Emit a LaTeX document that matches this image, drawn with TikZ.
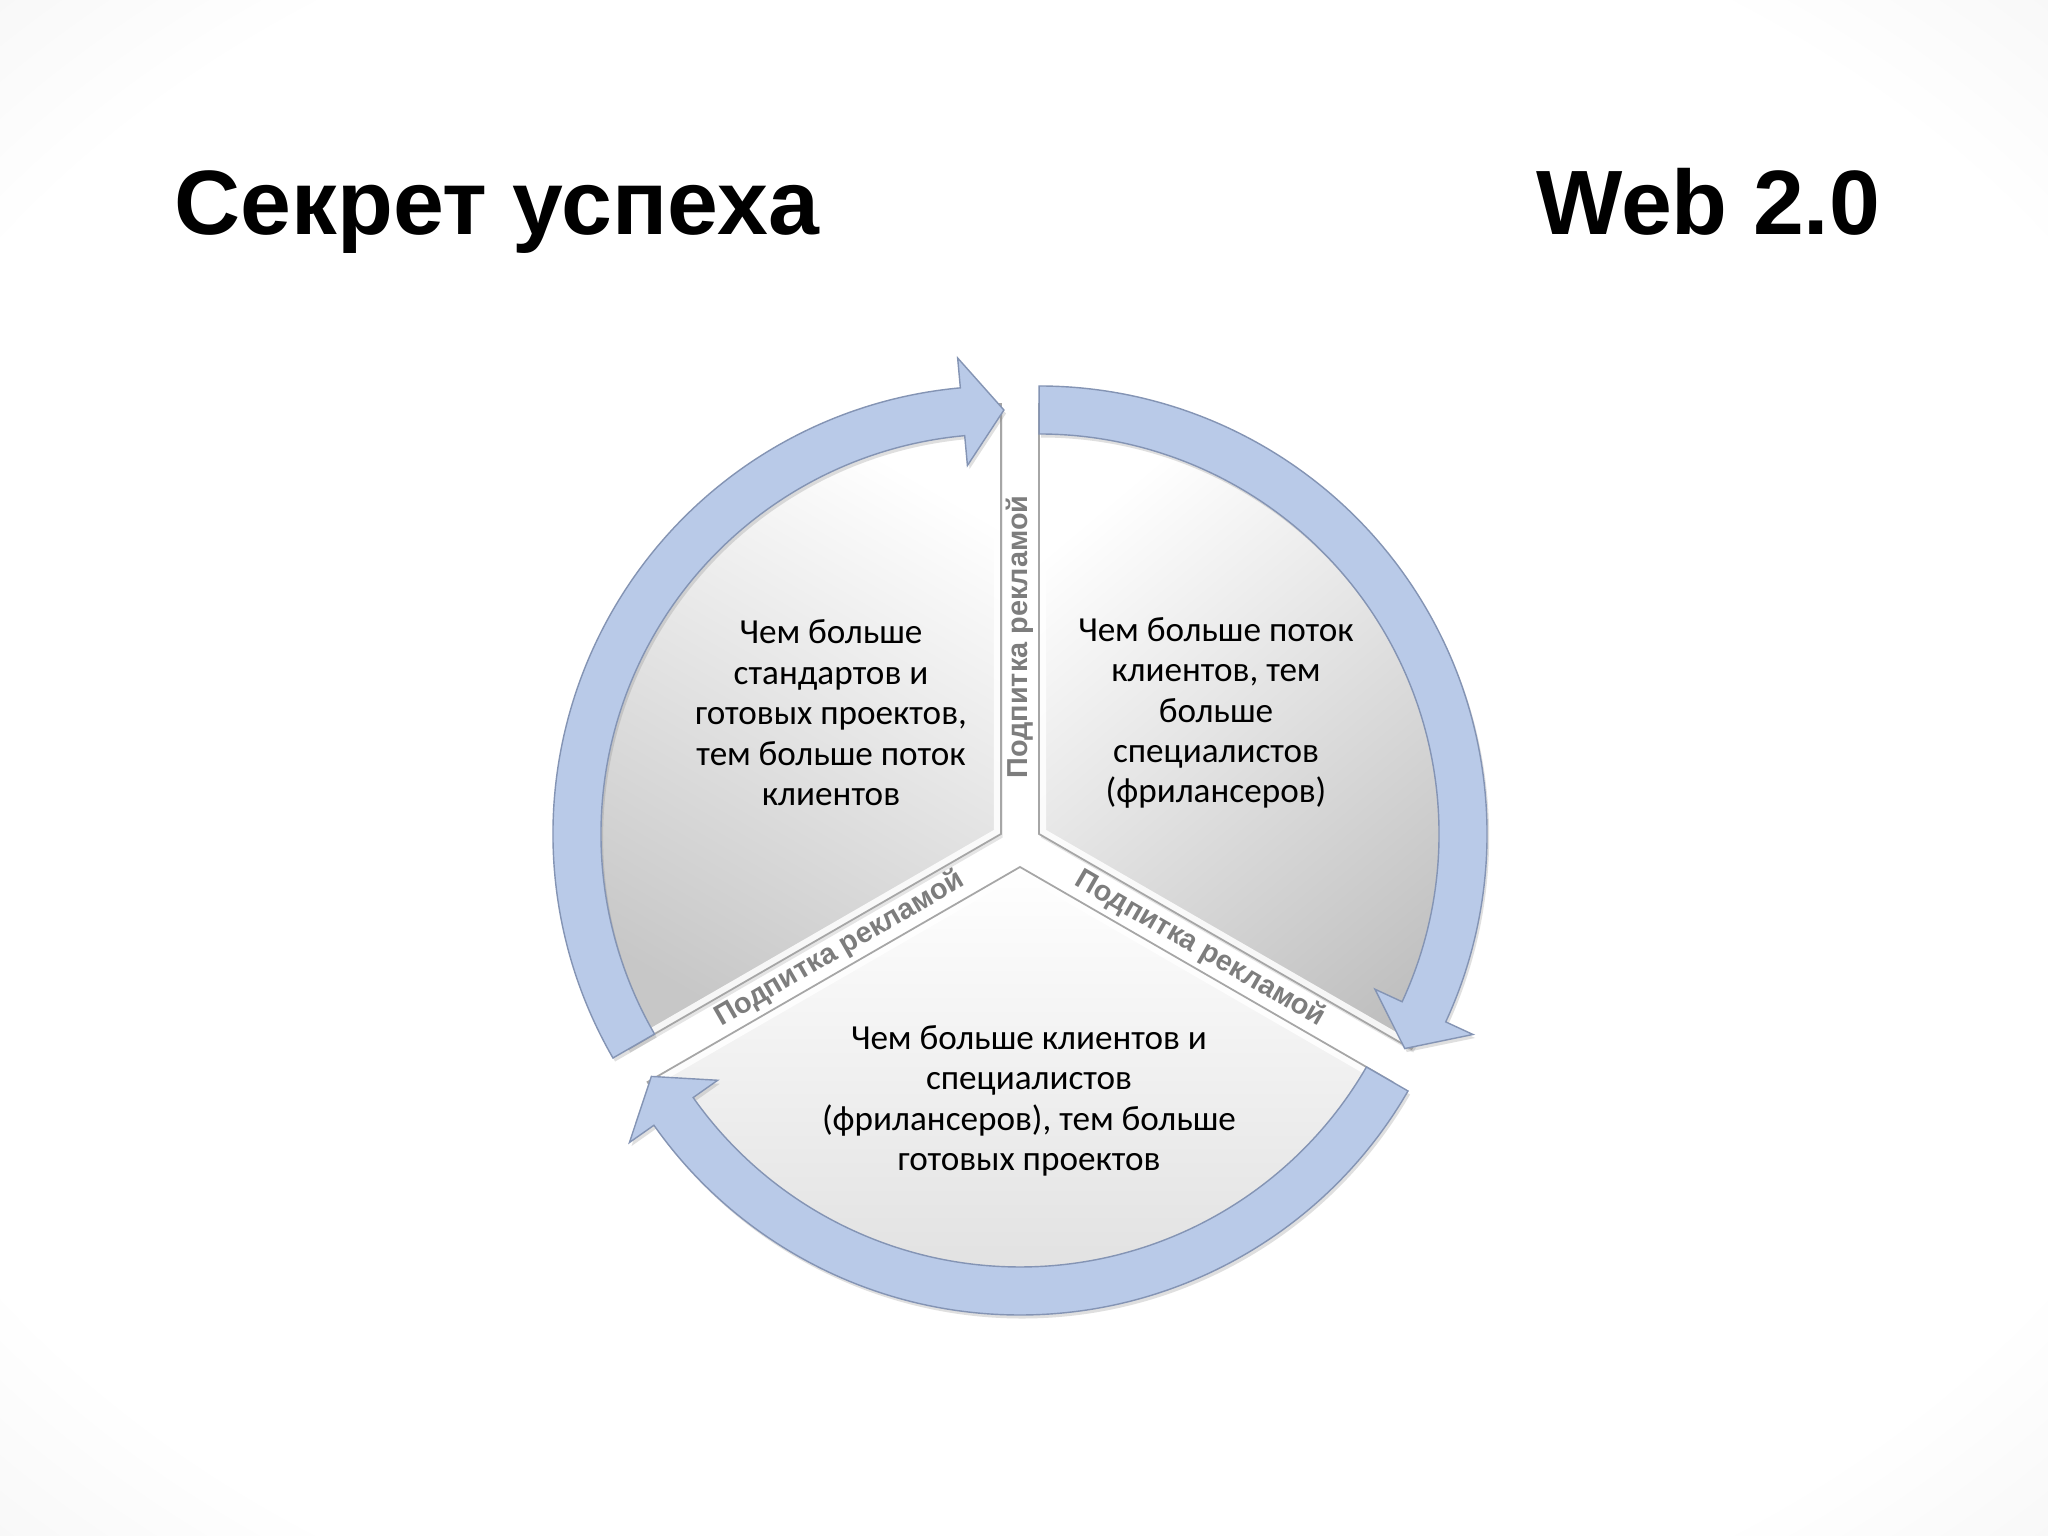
\documentclass[tikz,border=0pt]{standalone}
\usepackage{fontspec}
\setmainfont{Carlito}
\newfontfamily\headfont{Liberation Sans}
\usetikzlibrary{calc}
\usetikzlibrary{shadows}
\definecolor{ringblue}{RGB}{185,202,232}
\definecolor{ringedge}{RGB}{132,148,180}
\definecolor{labelgray}{RGB}{125,125,125}
\pgfdeclareradialshading{slidebg}{\pgfpoint{0bp}{0bp}}{color(0bp)=(white); color(30bp)=(white); color(50bp)=(black!10); color(72bp)=(black!22)}

\tikzset{
  title/.style={font=\headfont\bfseries\fontsize{26}{30}\selectfont, inner sep=0pt},
  bodytext/.style={align=center, font=\fontsize{10}{11.5}\selectfont, inner sep=0pt},
  gaplabel/.style={font=\headfont\bfseries\fontsize{8.2}{9}\selectfont, text=labelgray, inner sep=0pt},
  arrowring/.style={fill=ringblue, draw=ringedge, line width=0.4pt,
    drop shadow={shadow xshift=0.6pt, shadow yshift=-1pt, opacity=0.25}},
  slice/.style={draw=black!35, line width=0.5pt}
}

\begin{document}
\begin{tikzpicture}[x=0.01cm, y=0.01cm]
    % Background
    \shade[shading=slidebg] (0,0) rectangle (2048,1536);
    \useasboundingbox (0,0) rectangle (2048,1536);

    % Title
    \node[title, anchor=base west] (secret) at (174,1301) {Секрет успеха};
    \node[title, anchor=base east] (web) at (1881,1301) {Web 2.0};

    \coordinate (C0) at (1020,691);

% Draw slices
\foreach \ang/\sh/\dark in {90/-30/22, -30/40/25, 210/0/14} {
    \pgfmathsetmacro{\angend}{\ang+120}
    \begin{scope}[shift={($(C0)+(\ang+60:22)$)}]
        \path[top color=white, middle color=white, bottom color=black!\dark, shading angle=\sh,
            drop shadow={shadow xshift=0.5pt, shadow yshift=-1pt, opacity=0.2}]
            (0,0) -- (\ang:430) arc[start angle=\ang, end angle=\angend, radius=430] -- cycle;
        \begin{scope}
            \clip (0,0) -- (\ang:430) arc[start angle=\ang, end angle=\angend, radius=430] -- cycle;
            \draw[white, line width=4pt, opacity=0.85]
                (0,0) -- (\ang:430) arc[start angle=\ang, end angle=\angend, radius=430] -- cycle;
        \end{scope}
        \draw[slice] (0,0) -- (\ang:430) arc[start angle=\ang, end angle=\angend, radius=430] -- cycle;
    \end{scope}
}

% Draw arrows round the slices
\foreach \ang in {90, -30, 210} {
    \pgfmathsetmacro{\tail}{\ang+120}
    \pgfmathsetmacro{\base}{\ang+5.2}
    \pgfmathsetmacro{\tip}{\ang-0.4}
    \begin{scope}[shift={($(C0)+(\ang+60:22)$)}]
        \draw[arrowring] (\tail:448) arc[start angle=\tail, end angle=\base, radius=448]
            -- (\base:478) -- (\tip:424) -- (\base:370) -- (\base:400)
            arc[start angle=\base, end angle=\tail, radius=400] -- cycle;
    \end{scope}
}

    % Texts
    \node[bodytext] (standards) at (831,823) {Чем больше\\стандартов и\\готовых проектов,\\тем больше поток\\клиентов};
    \node[bodytext] (clients) at (1216,823) {Чем больше поток\\клиентов, тем\\больше\\специалистов\\(фрилансеров)};
    \node[bodytext] (projects) at (1029,435) {Чем больше клиентов и\\специалистов\\(фрилансеров), тем больше\\готовых проектов};

\foreach \ang/\rot [count=\i] in {90/90, 210/30, 330/-30}
    \node[gaplabel, rotate=\rot] (feed\i) at ($(C0)+(\ang:208)$) {Подпитка рекламой};

\end{tikzpicture}
\end{document}
